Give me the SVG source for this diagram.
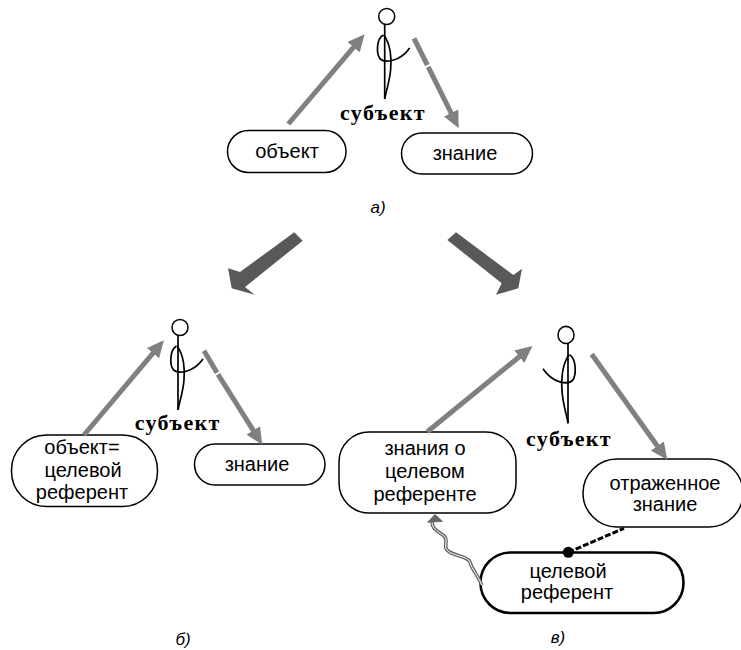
<svg xmlns="http://www.w3.org/2000/svg" width="741" height="650" viewBox="0 0 741 650">
<style>
.n{fill:#fff;stroke:#000;stroke-width:1.5}
.t{font-family:"Liberation Sans",Arial,sans-serif;font-size:20px;text-anchor:middle;fill:#000}
.s{font-family:"Liberation Serif","Times New Roman",serif;font-size:22px;font-weight:bold;text-anchor:middle;fill:#000;letter-spacing:1.3px}
.l{font-family:"Liberation Sans",Arial,sans-serif;font-size:17px;font-style:italic;text-anchor:middle;fill:#000}
.a{fill:none;stroke:#808080;stroke-width:5}
.f{fill:none;stroke:#000;stroke-width:1.7}
</style>
<defs>
<marker id="ah" markerUnits="userSpaceOnUse" markerWidth="18" markerHeight="16" viewBox="0 0 18 16" refX="8" refY="8" orient="auto"><polygon points="0,0 17,8 0,16" fill="#808080"/></marker>
<g id="man">
<circle cx="2" cy="-7.5" r="8" fill="none" stroke="#000" stroke-width="1.5"/>
<path class="f" d="M0 0V75"/>
<path class="f" d="M-1.500 11C-8.500 15-8.500 30-4.500 35C0 39 15 38 25 24"/>
<path class="f" d="M-1 11C6 20 7 35 6 45C5 58 1 68 0 75"/>
</g>
</defs>
<g id="subject-a"><use href="#man" x="384.700" y="24"/><text class="s" x="383" y="120">субъект</text></g>
<g id="object-a"><rect class="n" x="227.500" y="130.500" width="118.500" height="42" rx="21"/><text class="t" x="287" y="158">объект</text></g>
<g id="knowledge-a"><rect class="n" x="401.500" y="133" width="131" height="41" rx="20.500"/><text class="t" x="465" y="160">знание</text></g>
<g id="label-a"><text class="l" x="378" y="213">а)</text></g>
<g id="subject-b"><use href="#man" x="178" y="335"/><text class="s" x="177.700" y="430">субъект</text></g>
<g id="object-b"><rect class="n" x="11.500" y="435" width="146" height="71.500" rx="35"/><text class="t" x="82" y="454">объект=</text><text class="t" x="83" y="476.500">целевой</text><text class="t" x="82" y="499">референт</text></g>
<g id="knowledge-b"><rect class="n" x="194.500" y="444" width="130.500" height="41" rx="20.500"/><text class="t" x="257" y="471">знание</text></g>
<g id="label-b"><text class="l" x="183" y="645">б)</text></g>
<g id="subject-c"><use href="#man" transform="translate(568 343) scale(-1 1.07)"/><text class="s" x="569" y="446">субъект</text></g>
<g id="knowledge-c"><rect class="n" x="339" y="432" width="177" height="81" rx="30"/><text class="t" x="425" y="455">знания о</text><text class="t" x="425" y="478">целевом</text><text class="t" x="425" y="501">референте</text></g>
<g id="reflected-c"><rect class="n" x="583" y="459" width="160" height="68" rx="34"/><text class="t" x="665" y="490">отраженное</text><text class="t" x="665" y="511">знание</text></g>
<g id="referent-c"><rect class="n" x="480.500" y="552.500" width="203" height="60.500" rx="30" style="stroke-width:2.6"/><text class="t" x="568" y="578">целевой</text><text class="t" x="567" y="599">референт</text></g>
<g id="label-c"><text class="l" x="558" y="643">в)</text></g>
<g id="connectors">
<line class="a" x1="288.300" y1="124" x2="358.800" y2="41.100" marker-end="url(#ah)"/>
<line class="a" x1="414" y1="38.300" x2="427.400" y2="65.200"/>
<line class="a" x1="428.200" y1="66.800" x2="454.700" y2="120.100" marker-end="url(#ah)"/>
<line class="a" x1="84" y1="435" x2="158.100" y2="347.100" marker-end="url(#ah)"/>
<line class="a" x1="204" y1="350.700" x2="217" y2="372.700"/>
<line class="a" x1="218" y1="374.300" x2="257.500" y2="437.200" marker-end="url(#ah)"/>
<line class="a" x1="427.300" y1="431.700" x2="525.500" y2="351.700" marker-end="url(#ah)"/>
<line class="a" x1="591.700" y1="354.300" x2="662" y2="452.500" marker-end="url(#ah)"/>
<polygon fill="#595959" points="294.300,232.300 240,272 228,268.300 231.700,288.300 254.700,294.700 245,287 302.700,240.700"/>
<polygon fill="#595959" points="456,232.300 513.300,275 522,268.700 518.300,288.300 496,294.700 501.700,283.300 447.300,240"/>
<path d="M481.700 585C478 575 472 570 470 562C468 556 452 556 447 550C443 546 449 540 444 536C440 532 432 530 432 522" fill="none" stroke="#666" stroke-width="3.600"/>
<path d="M481.700 585C478 575 472 570 470 562C468 556 452 556 447 550C443 546 449 540 444 536C440 532 432 530 432 522" fill="none" stroke="#fff" stroke-width="1"/>
<polygon points="435,514 426.700,522.700 443.300,521.700" fill="#666"/>
<line x1="568.300" y1="552.300" x2="624" y2="528.300" stroke="#000" stroke-width="3" stroke-dasharray="6 2"/>
<circle cx="568.300" cy="552.300" r="5.500" fill="#000"/>
</g>
</svg>
